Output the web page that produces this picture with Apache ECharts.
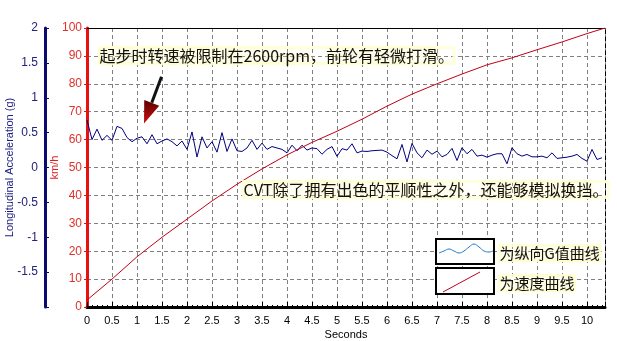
<!DOCTYPE html>
<html><head><meta charset="utf-8">
<script src="https://cdn.jsdelivr.net/npm/echarts@6/dist/echarts.min.js"></script>
<style>html,body{margin:0;padding:0;background:#fff}#c{width:617px;height:341px}</style>
</head><body><div id="c"></div>
<script>
// G-value samples, one every sampleStep seconds starting at t = 0
const sampleStep = 0.1;
const gValues = [
  0.68, 0.40, 0.55, 0.39, 0.46, 0.39, 0.59, 0.56, 0.43, 0.37,
  0.42, 0.44, 0.34, 0.47, 0.34, 0.38, 0.41, 0.37, 0.31, 0.38,
  0.26, 0.51, 0.15, 0.44, 0.28, 0.37, 0.22, 0.50, 0.23, 0.41,
  0.24, 0.23, 0.28, 0.39, 0.26, 0.35, 0.26, 0.30, 0.28, 0.26,
  0.21, 0.32, 0.24, 0.32, 0.25, 0.28, 0.27, 0.19, 0.26, 0.30,
  0.16, 0.27, 0.25, 0.34, 0.21, 0.235, 0.23, 0.24, 0.245, 0.25,
  0.22, 0.17, 0.125, 0.33, 0.08, 0.345, 0.21, 0.14, 0.25, 0.19,
  0.235, 0.153, 0.187, 0.274, 0.10, 0.283, 0.197, 0.259, 0.163, 0.177,
  0.148, 0.177, 0.197, 0.197, 0.053, 0.283, 0.197, 0.163, 0.187, 0.153,
  0.153, 0.163, 0.139, 0.21, 0.13, 0.139, 0.148, 0.163, 0.187, 0.13,
  0.091, 0.259, 0.115, 0.139
];
const speedTimes  = [0, 0.5, 1.0, 1.5, 2.0, 2.5, 3.0, 3.5, 4.0, 4.5, 5.0, 5.5, 6.0, 6.5, 7.0, 7.5, 8.0, 8.5, 9.0, 9.5, 10.0, 10.36];
const speedValues = [2.5, 10, 18, 25, 31.5, 38, 44, 49.5, 54.5, 59, 63, 67.3, 72, 76.3, 80, 83.5, 86.8, 89.3, 92.2, 95, 98, 100];
const xMax = 10.36;
const note1 = '起步时转速被限制在2600rpm，前轮有轻微打滑。';
const note2 = 'CVT除了拥有出色的平顺性之外，还能够模拟换挡。';
const legendNames = ['为纵向G值曲线', '为速度曲线'];
const arrowTail = [1.49, 82.5];
const arrowTip = [1.14, 65.8];

const gData = gValues.map((v, i) => [+(i * sampleStep).toFixed(2), v]);
const speedData = speedTimes.map((t, i) => [t, speedValues[i]]);

const chart = echarts.init(document.getElementById('c'), null, {renderer: 'canvas'});
const latin = 'Liberation Sans, Arial, sans-serif';
const cjk = '"Noto Sans CJK SC", sans-serif';
function dashGrid() { return {show: true, lineStyle: {color: '#808080', type: [4, 3], width: 1}}; }

chart.setOption({
  animation: false,
  backgroundColor: '#fff',
  grid: {left: 87, right: 12, top: 28, bottom: 34, containLabel: false, outerBoundsMode: 'none'},
  xAxis: [{
    type: 'value', min: 0, max: xMax, interval: 0.5,
    name: 'Seconds', nameLocation: 'middle', nameGap: 22, nameMoveOverlap: false,
    nameTextStyle: {color: '#000', fontSize: 11, fontFamily: latin},
    axisLine: {onZero: false, lineStyle: {color: '#000', width: 3}},
    axisTick: {show: true, inside: true, length: 5, lineStyle: {color: '#000', width: 1}},
    minorTick: {show: true, splitNumber: 5, length: 2, lineStyle: {color: '#000'}},
    axisLabel: {color: '#000', fontSize: 11, fontFamily: latin, margin: 8, showMaxLabel: false},
    splitLine: dashGrid()
  }, {
    type: 'value', position: 'top', min: 0, max: xMax,
    axisLine: {show: true, onZero: false, lineStyle: {color: '#000', width: 1}},
    axisTick: {show: false}, axisLabel: {show: false}, splitLine: {show: false}
  }],
  yAxis: [{
    type: 'value', position: 'left', min: 0, max: 100, interval: 10,
    name: 'km/h', nameLocation: 'middle', nameGap: 27, nameMoveOverlap: false,
    nameTextStyle: {color: '#e02020', fontSize: 11, fontFamily: latin},
    axisLine: {show: true, onZero: false, lineStyle: {color: '#e81010', width: 3}},
    axisTick: {show: true, length: 3, lineStyle: {color: '#e81010'}},
    axisLabel: {color: '#e0302a', fontSize: 12, fontFamily: latin, margin: 5},
    splitLine: dashGrid()
  }, {
    type: 'value', position: 'left', offset: 42, min: -2, max: 2, interval: 0.5,
    name: 'Longitudinal Acceleration (g)', nameLocation: 'middle', nameGap: 30, nameMoveOverlap: false,
    nameTextStyle: {color: '#1a1a80', fontSize: 11, fontFamily: latin},
    axisLine: {show: true, onZero: false, lineStyle: {color: '#0a0a70', width: 3}},
    axisTick: {show: true, inside: true, length: 4, lineStyle: {color: '#0a0a70'}},
    minorTick: {show: true, splitNumber: 5, length: 2, lineStyle: {color: '#0a0a70'}},
    axisLabel: {color: '#22227a', fontSize: 12, fontFamily: latin, margin: 7, showMinLabel: false},
    splitLine: {show: false}
  }, {
    type: 'value', position: 'right', min: 0, max: 100, interval: 10,
    axisLine: {show: true, onZero: false, lineStyle: {color: '#000', width: 1, type: [4, 3]}},
    axisTick: {show: false}, axisLabel: {show: false}, splitLine: dashGrid()
  }],
  series: [{
    type: 'line', name: legendNames[0], yAxisIndex: 1, data: gData,
    symbol: 'none', lineStyle: {color: '#000080', width: 1}, z: 3
  }, {
    type: 'line', name: legendNames[1], yAxisIndex: 0, data: speedData,
    symbol: 'none', lineStyle: {color: '#c00018', width: 1}, z: 3
  }]
});

// annotations
const glow = {textShadowColor: '#fff3a0', textShadowBlur: 6, textBorderColor: 'rgba(255,255,215,0.9)', textBorderWidth: 3};
const tail = chart.convertToPixel({xAxisIndex: 0, yAxisIndex: 0}, arrowTail);
const tip = chart.convertToPixel({xAxisIndex: 0, yAxisIndex: 0}, arrowTip);
const dx = tip[0] - tail[0], dy = tip[1] - tail[1];
const len = Math.hypot(dx, dy);
const ux = dx / len, uy = dy / len;
const headLen = 22, headHalf = 8;
const bc = [tip[0] - ux * headLen, tip[1] - uy * headLen];
const p1 = [bc[0] - uy * headHalf, bc[1] + ux * headHalf];
const p2 = [bc[0] + uy * headHalf, bc[1] - ux * headHalf];

function textEl(x, y, s, size) {
  return {type: 'text', left: x, top: y, z: 20,
    style: Object.assign({text: s, fill: '#111', font: size + 'px ' + cjk, textVerticalAlign: 'middle'}, glow)};
}
const waveIcon = [[3, 14], [8, 12], [13, 10], [18, 12], [23, 14], [28, 12], [33, 8], [38, 5], [43, 8], [48, 12], [53, 13], [57, 12]];

chart.setOption({
  graphic: [
    textEl(98, 46, note1, 16),
    textEl(242, 180, note2, 16),
    {type: 'line', z: 20, shape: {x1: tail[0], y1: tail[1], x2: bc[0], y2: bc[1]}, style: {stroke: '#111', lineWidth: 3}},
    {type: 'polygon', z: 21, shape: {points: [tip, p1, p2]},
      style: {fill: new echarts.graphic.LinearGradient(0, 0, 0, 1, [{offset: 0, color: '#5a0000'}, {offset: 1, color: '#d01010'}])}},
    {type: 'group', left: 435, top: 238, z: 20, children: [
      {type: 'rect', shape: {x: 0, y: 0, width: 58, height: 25}, style: {fill: '#fff', stroke: '#000', lineWidth: 2}},
      {type: 'polyline', shape: {points: waveIcon, smooth: 0.4}, style: {stroke: '#1e78c8', lineWidth: 1, fill: null}}
    ]},
    {type: 'group', left: 435, top: 267, z: 20, children: [
      {type: 'rect', shape: {x: 0, y: 0, width: 58, height: 26}, style: {fill: '#fff', stroke: '#000', lineWidth: 2}},
      {type: 'line', shape: {x1: 7, y1: 24, x2: 44, y2: 4}, style: {stroke: '#c00020', lineWidth: 1}}
    ]},
    textEl(498, 244, legendNames[0], 15),
    textEl(498, 274, legendNames[1], 15)
  ]
});
</script>
</body></html>
